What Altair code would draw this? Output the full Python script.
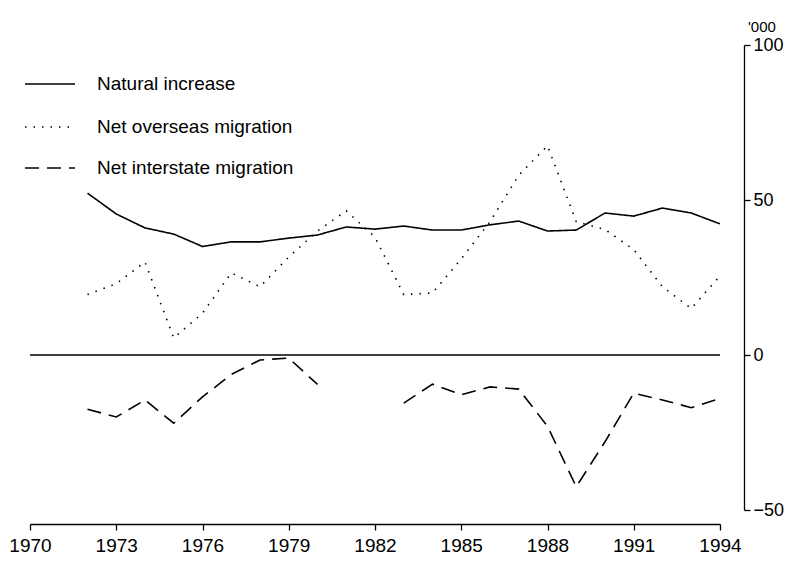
import altair as alt
import pandas as pd

# ---- data (thousands) ----
years = list(range(1972, 1995))
natural = [52.2, 45.5, 41, 39, 35, 36.5, 36.5, 37.7, 38.7, 41.3, 40.6, 41.6, 40.3, 40.3,
           42, 43.2, 40, 40.3, 45.8, 44.8, 47.4, 45.8, 42.3]
overseas = [19.5, 23, 30, 5.5, 13.5, 26.5, 22, 31.6, 40, 46.5, 38, 19.5, 20, 31,
            43, 58, 67.5, 43, 40.5, 34, 22, 15, 25.5]
interstate = [-17.5, -20, -14.5, -22, -13.5, -6.3, -1.6, -1, -9.5, None, None, -15.5,
              -9.4, -12.8, -10.3, -11, -23, -42.5, -28, -12.3, -14.5, -17, -14]
series_names = ["Natural increase", "Net overseas migration", "Net interstate migration"]
x_ticks = [1970, 1973, 1976, 1979, 1982, 1985, 1988, 1991, 1994]
y_ticks = [-50, 0, 50, 100]
unit_label = "'000"

W, H = 690, 465
FONT = "Liberation Sans"
FS = 19
DASHES = [[1, 0], [1.5, 7], [14, 8]]


def series_df(values, name):
    df = pd.DataFrame({"year": years, "value": values})
    df["segment"] = df["value"].isna().cumsum()
    df = df.dropna().copy()
    df["series"] = name
    return df


lines_df = pd.concat([
    series_df(natural, series_names[0]),
    series_df(overseas, series_names[1]),
    series_df(interstate, series_names[2]),
], ignore_index=True)

x_scale = alt.Scale(domain=[1970, 1994], nice=False, zero=False)
y_scale = alt.Scale(domain=[-50, 100], nice=False, zero=False)

x_axis = alt.Axis(values=x_ticks, format="d", title=None, orient="bottom", offset=14,
                  domainColor="black", domainWidth=1.3, tickColor="black", tickWidth=1.3,
                  tickSize=6, labelFont=FONT, labelFontSize=FS, labelColor="black",
                  labelPadding=6, labelFlush=False, grid=False)
y_axis = alt.Axis(values=y_ticks, format="d", title=None, orient="right", offset=24,
                  domainColor="black", domainWidth=1.3, tickColor="black", tickWidth=1.3,
                  tickSize=6, labelFont=FONT, labelFontSize=18, labelColor="black",
                  labelPadding=3, labelFlush=False, grid=False)

zero = alt.Chart(pd.DataFrame({"v": [0]})).mark_rule(color="black", strokeWidth=1.5).encode(
    y=alt.Y("v:Q", scale=y_scale, axis=y_axis)
)

lines = alt.Chart(lines_df).mark_line(color="black", strokeWidth=1.6).encode(
    x=alt.X("year:Q", scale=x_scale, axis=x_axis),
    y=alt.Y("value:Q", scale=y_scale, axis=y_axis),
    strokeDash=alt.StrokeDash("series:N",
                              scale=alt.Scale(domain=series_names, range=DASHES),
                              legend=None),
    detail="segment:N",
)

unit = alt.Chart(pd.DataFrame({"t": [unit_label]})).mark_text(
    align="left", baseline="middle", font=FONT, fontSize=15, color="black"
).encode(x=alt.value(718), y=alt.value(-18), text="t:N")

legend_layers = []
legend_y = [39, 82, 123]
for name, dash, ly in zip(series_names, DASHES, legend_y):
    d = pd.DataFrame({"label": [name]})
    legend_layers.append(
        alt.Chart(d).mark_rule(color="black", strokeWidth=1.5, strokeDash=dash).encode(
            x=alt.value(-5), x2=alt.value(45), y=alt.value(ly))
    )
    legend_layers.append(
        alt.Chart(d).mark_text(align="left", baseline="middle", font=FONT, fontSize=FS,
                               color="black").encode(
            x=alt.value(67), y=alt.value(ly), text="label:N")
    )

chart = alt.layer(zero, lines, unit, *legend_layers).properties(
    width=W, height=H,
    padding={"left": 22, "top": 37, "right": 66, "bottom": 45},
    autosize=alt.AutoSizeParams(type="none"),
    background="white",
).configure_view(stroke=None)

chart.save("out.html", embed_options={"renderer": "svg", "actions": False})
